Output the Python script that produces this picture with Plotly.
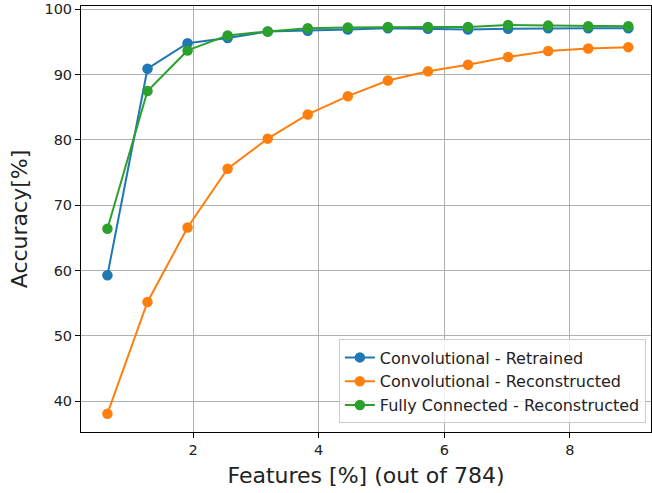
import plotly.graph_objects as go

features = [5, 10, 15, 20, 25, 30, 35, 40, 45, 50, 55, 60, 65, 70]
x_pct = [f / 784 * 100 for f in features]

conv_retrained = [59.3, 90.9, 94.8, 95.6, 96.6, 96.7, 96.9, 97.1, 97.0, 96.9, 97.0, 97.1, 97.1, 97.1]
conv_reconstructed = [38.1, 55.2, 66.6, 75.6, 80.2, 83.9, 86.7, 89.1, 90.5, 91.5, 92.7, 93.6, 94.0, 94.2]
fc_reconstructed = [66.4, 87.5, 93.7, 96.0, 96.6, 97.1, 97.2, 97.3, 97.3, 97.3, 97.6, 97.5, 97.4, 97.4]

names = ["Convolutional - Retrained", "Convolutional - Reconstructed", "Fully Connected - Reconstructed"]
series = [conv_retrained, conv_reconstructed, fc_reconstructed]
colors = ["#1f77b4", "#ff7f0e", "#2ca02c"]

fig = go.Figure()
for i, (n, s, c) in enumerate(zip(names, series, colors)):
    fig.add_trace(go.Scatter(x=x_pct, y=s, name=n, mode="lines+markers",
                             line=dict(color=c, width=2),
                             marker=dict(color=c, size=10.5)))

font = "DejaVu Sans, sans-serif"
axis_common = dict(showline=True, linecolor="black", linewidth=1, mirror=True,
                   ticks="outside", ticklen=5, tickcolor="black", automargin=False,
                   showgrid=True, gridcolor="#b0b0b0", gridwidth=1, zeroline=False,
                   tickfont=dict(family=font, size=14.5, color="#222"))
fig.update_layout(
    width=652, height=493,
    margin=dict(l=81, r=1, t=6, b=61),
    plot_bgcolor="white", paper_bgcolor="white",
    font=dict(family=font, color="#222"),
    xaxis=dict(range=[0.217, 9.29], tickvals=[2, 4, 6, 8],
               title=dict(text="Features [%] (out of 784)", font=dict(size=22, family=font), standoff=10),
               **axis_common),
    yaxis=dict(range=[35.3, 100.5], tickvals=[40, 50, 60, 70, 80, 90, 100],
               title=dict(text="Accuracy[%]", font=dict(size=22, family=font), standoff=10),
               **axis_common),
    legend=dict(x=0.991, y=0.02, xanchor="right", yanchor="bottom",
                itemwidth=30,
                bgcolor="rgba(255,255,255,0.8)", bordercolor="#cccccc", borderwidth=1,
                font=dict(family=font, size=16, color="#222")),
    showlegend=True,
)
fig.write_html("out.html", config={"displayModeBar": False},
               post_script="document.body.style.margin='0';")
